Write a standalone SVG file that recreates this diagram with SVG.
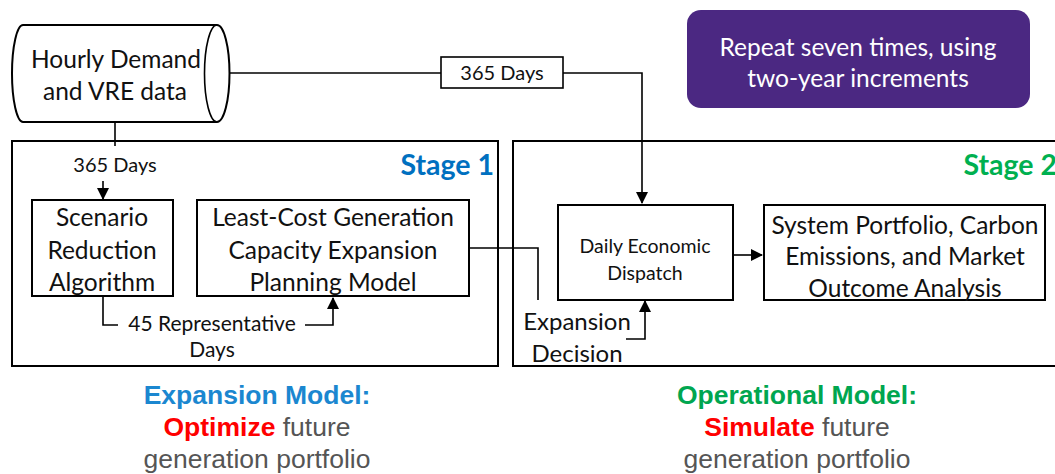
<svg xmlns="http://www.w3.org/2000/svg" width="1055" height="474" viewBox="0 0 1055 474">
<style>
.bx{fill:#fff;stroke:#000;stroke-width:2}
.ln{fill:none;stroke:#000;stroke-width:1.6}
.t{font-family:Lato,"Liberation Sans",sans-serif;fill:#111;text-anchor:middle;dominant-baseline:central}
.m{font-size:24.5px}
.b{font-family:"Liberation Sans",Arial,sans-serif;text-anchor:middle;font-size:26.5px}
</style>
<defs>
<marker id="ah" markerWidth="12" markerHeight="12" refX="11" refY="6" orient="auto" markerUnits="userSpaceOnUse">
<path d="M0,0 L12,6 L0,12 Z" fill="#000"/>
</marker>
</defs>
<rect width="1055" height="474" fill="#fff"/>

<g id="stage1">
<rect x="12" y="141" width="486" height="225" class="bx"/>
<text x="494" y="164" class="t" style="text-anchor:end;font-size:28.5px;font-weight:bold;fill:#0070C0">Stage 1</text>
</g>
<g id="stage2">
<rect x="513" y="141" width="560" height="225" class="bx"/>
<text x="1057" y="164" class="t" style="text-anchor:end;font-size:28.5px;font-weight:bold;fill:#00B050">Stage 2</text>
</g>

<g id="connectors">
<path d="M230,73 H441" class="ln"/>
<path d="M563,73 H642 V203" class="ln" marker-end="url(#ah)"/>
<path d="M115,122 V146" class="ln"/>
<path d="M103,181 V199" class="ln" marker-end="url(#ah)"/>
<path d="M103,297 V325 H118" class="ln"/>
<path d="M305,325 H333 V298" class="ln" marker-end="url(#ah)"/>
<path d="M469,248 H538 V300" class="ln"/>
<path d="M733,255 H762" class="ln" marker-end="url(#ah)"/>
<path d="M626,339 H645 V301" class="ln" marker-end="url(#ah)"/>
<text x="115" y="164" class="t" style="font-size:20px">365 Days</text>
<text x="212" y="322" class="t" style="font-size:21px">45 Representative</text>
<text x="212" y="348" class="t" style="font-size:21px">Days</text>
<text x="577" y="320" class="t" style="font-size:24px">Expansion</text>
<text x="577" y="352" class="t" style="font-size:24px">Decision</text>
</g>

<g id="data">
<path d="M23,25 H217 A12.5,48.5 0 0 1 217,122 H23 A11,48.5 0 0 1 23,25 Z" class="bx"/>
<path d="M217,25 A12.5,48.5 0 0 0 217,122" class="ln"/>
<text x="116" y="58" class="t" style="font-size:24.5px">Hourly Demand</text>
<text x="115" y="90" class="t" style="font-size:24.5px">and VRE data</text>
</g>

<g id="days365">
<rect x="441" y="57" width="122" height="31" class="bx" style="stroke-width:1.6"/>
<text x="502" y="72" class="t" style="font-size:20px">365 Days</text>
</g>

<g id="repeat">
<rect x="687" y="10" width="343" height="98" rx="14" fill="#4B2882"/>
<text x="858" y="46" class="t" style="font-size:24.5px;fill:#fff">Repeat seven times, using</text>
<text x="858" y="77" class="t" style="font-size:24.5px;fill:#fff">two-year increments</text>
</g>

<g id="scenario">
<rect x="32" y="200" width="141" height="96" class="bx"/>
<text x="102" y="216" class="t m">Scenario</text>
<text x="102" y="249" class="t m">Reduction</text>
<text x="102" y="281" class="t m">Algorithm</text>
</g>

<g id="leastcost">
<rect x="197" y="200" width="272" height="96" class="bx"/>
<text x="333" y="216" class="t m">Least-Cost Generation</text>
<text x="333" y="249" class="t m">Capacity Expansion</text>
<text x="333" y="281" class="t m">Planning Model</text>
</g>

<g id="dispatch">
<rect x="558" y="205" width="175" height="95" class="bx"/>
<text x="645" y="245" class="t" style="font-size:19.5px">Daily Economic</text>
<text x="645" y="272" class="t" style="font-size:19.5px">Dispatch</text>
</g>

<g id="portfolio">
<rect x="764" y="205" width="281" height="95" class="bx"/>
<text x="905" y="224" class="t m">System Portfolio, Carbon</text>
<text x="905" y="255" class="t m">Emissions, and Market</text>
<text x="905" y="287" class="t m">Outcome Analysis</text>
</g>

<g id="expansion-model">
<text x="257" y="404" class="b" style="font-weight:bold;fill:#1B87D0">Expansion Model:</text>
<text x="257" y="436" class="b" style="fill:#555"><tspan style="font-weight:bold;fill:#FF0000">Optimize</tspan> future</text>
<text x="257" y="468" class="b" style="fill:#555">generation portfolio</text>
</g>

<g id="operational-model">
<text x="797" y="404" class="b" style="font-weight:bold;fill:#00A650">Operational Model:</text>
<text x="797" y="436" class="b" style="fill:#555"><tspan style="font-weight:bold;fill:#FF0000">Simulate</tspan> future</text>
<text x="797" y="468" class="b" style="fill:#555">generation portfolio</text>
</g>
</svg>
